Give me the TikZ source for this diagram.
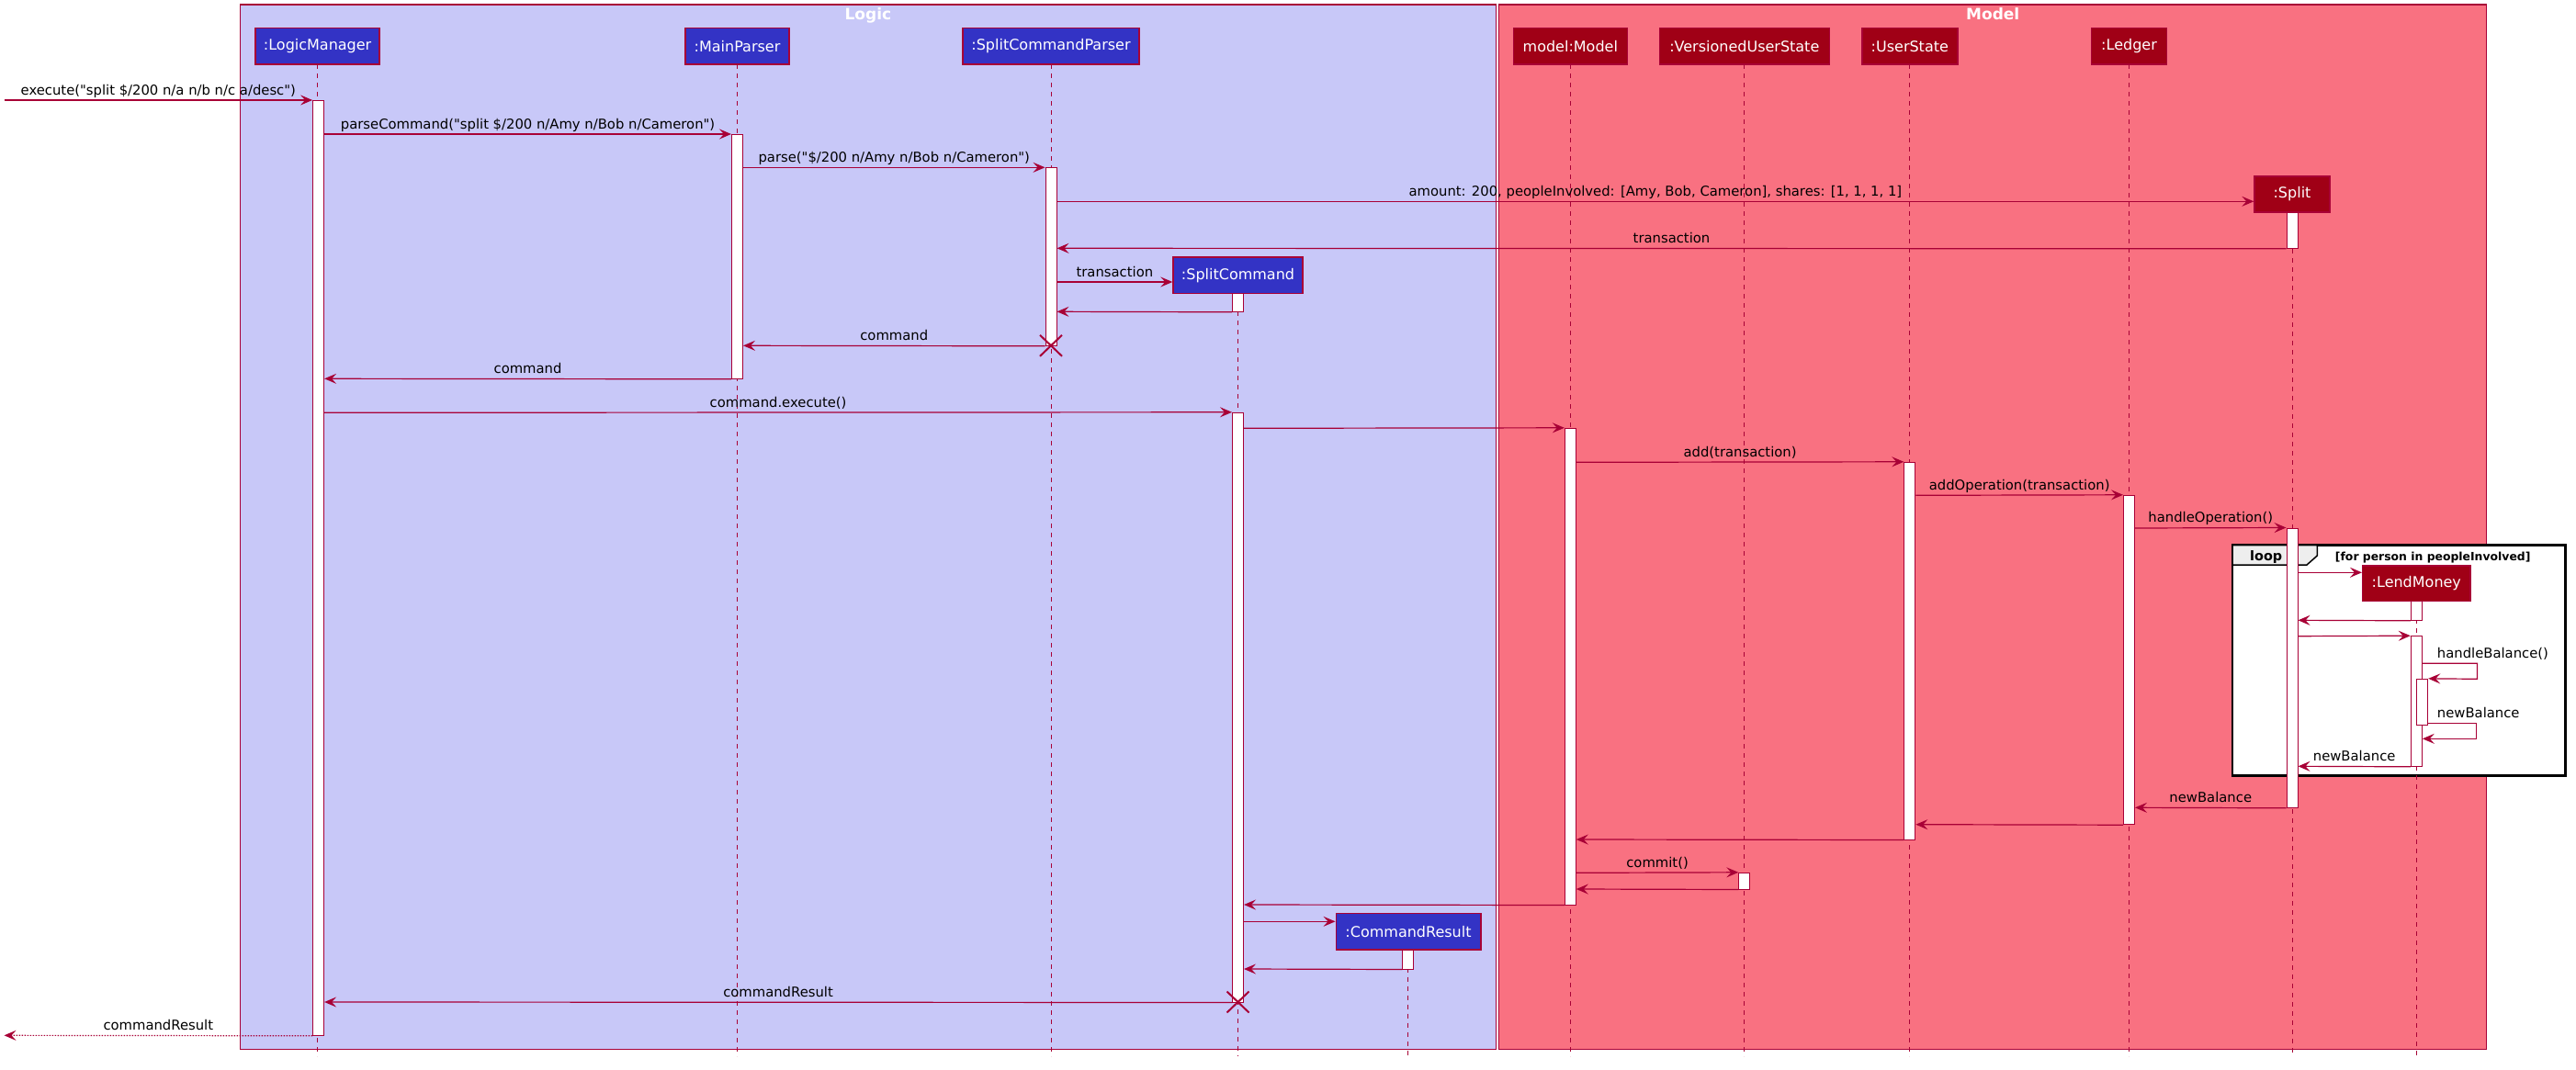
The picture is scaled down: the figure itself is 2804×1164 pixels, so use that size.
\documentclass[tikz,border=0pt]{standalone}
\usepackage{fontspec}
\setmainfont{DejaVu Sans}[Ligatures=TeXOff]
\usetikzlibrary{arrows.meta}
\definecolor{lred}{HTML}{A80036}
\definecolor{logicFill}{RGB}{200,200,248}
\definecolor{modelFill}{RGB}{249,113,129}
\definecolor{logicPart}{RGB}{51,51,197}
\definecolor{modelPart}{RGB}{160,0,22}
\definecolor{tabFill}{HTML}{EEEEEE}
\newcommand\actbar[4]{\node[act, minimum height={(#4-#3)*1pt}] (#1) at (#2,{(#3+#4)/2}) {};}
\newcommand\killmark[2]{\draw[xmark] (#1) ++(-12,-11.5) -- ++(24,23) (#1) ++(12,-11.5) -- ++(-24,23);}
\begin{document}
\begin{tikzpicture}[x=1pt,y=-1pt,
  part/.style={draw=lred, line width=1.4pt, text=white, font=\fontsize{16}{19}\selectfont, minimum height=39.3pt, inner sep=0pt},
  lpart/.style={part, fill=logicPart},
  mpart/.style={part, fill=modelPart},
  act/.style={draw=lred, fill=white, line width=1pt, minimum width=12pt, inner sep=0pt},
  lifeline/.style={draw=lred, line width=1pt, dash pattern=on 5pt off 5pt},
  msg/.style={draw=lred, line width=1.2pt, -{Stealth[length=13pt,width=11pt,inset=5pt]}},
  retdot/.style={msg, dash pattern=on 1.5pt off 1.5pt},
  lbl/.style={midway, anchor=base, yshift=6pt, inner sep=0pt, text=black, font=\fontsize{14.8}{17}\selectfont},
  slbl/.style={anchor=base west, inner sep=0pt, text=black, font=\fontsize{14.8}{17}\selectfont},
  title/.style={anchor=base, inner sep=0pt, text=white, font=\fontsize{17}{20}\selectfont\bfseries},
  xmark/.style={draw=lred, line width=2pt}
]
\useasboundingbox (0,0) rectangle (2804,1164);
\fill[white] (0,0) rectangle (2804,1164);
% packages
\draw[draw=lred, line width=1.4pt, fill=logicFill] (261.5,5) rectangle (1628.3,1142.3);
\draw[draw=lred, line width=1.4pt, fill=modelFill] (1631.7,5) rectangle (2706.7,1142.3);
\node[title] (tLogic) at (944.9,22) {Logic};
\node[title] (tModel) at (2169.2,22) {Model};
% loop frame
\draw[black, line width=2.7pt, fill=white] (2430,593.7) rectangle (2792.3,844.7);
\draw[black, line width=1.5pt, fill=tabFill] (2430,593.7) -- (2522.3,593.7) -- (2522.3,605) -- (2511,615) -- (2430,615) -- cycle;
\node[anchor=base, inner sep=0pt, font=\fontsize{14.4}{17}\selectfont\bfseries] (tLoop) at (2466.7,610.5) {loop};
\node[anchor=base west, inner sep=0pt, font=\fontsize{12.4}{15}\selectfont\bfseries] (tGuard) at (2541.7,610) {[for person in peopleInvolved]};
% participants (coordinates for lifelines)
\coordinate (cLM) at (345.6,70);
\coordinate (cMP) at (802.5,70);
\coordinate (cSCP) at (1144,70);
\coordinate (cSC) at (1347.5,319);
\coordinate (cModel) at (1709.3,70);
\coordinate (cVUS) at (1898.8,70);
\coordinate (cUS) at (2078.8,70);
\coordinate (cLedger) at (2317.5,70);
\coordinate (cSplit) at (2495,231.3);
\coordinate (cLend) at (2630.3,654.3);
\coordinate (cCR) at (1532.8,1033.7);
\foreach \c in {cLM,cMP,cSCP,cSC,cModel,cVUS,cUS,cLedger,cSplit,cLend,cCR}
  \draw[lifeline] (\c) -- (\c |- 0,1150);
% activations
\actbar{aLM}{346.6}{109}{1127.3}
\actbar{aMP}{802.5}{146}{412.3}
\actbar{aSCP}{1144}{182.3}{376.3}
\actbar{aSplitA}{2495}{231.3}{270.3}
\actbar{aSplitB}{2495}{575}{879.3}
\actbar{aSCa}{1347.5}{319}{339.3}
\actbar{aSCb}{1347.5}{449.3}{1091}
\actbar{aModel}{1709.3}{466.3}{985}
\actbar{aUS}{2078.8}{503.3}{914}
\actbar{aLedger}{2317.5}{539.3}{897.7}
\actbar{aLendA}{2630.3}{654.3}{675.3}
\actbar{aLendB}{2630.3}{692.7}{834.3}
\actbar{aLendC}{2636.7}{739.3}{789.3}
\actbar{aVUS}{1898.8}{950.3}{968}
\actbar{aCR}{1532.8}{1033.7}{1055}
% participant boxes
\node[lpart, minimum width=135pt] (pLM) at (345.6,50.3) {:LogicManager};
\node[lpart, minimum width=113pt] (pMP) at (802.5,50.3) {:MainParser};
\node[lpart, minimum width=192pt] (pSCP) at (1144,50.3) {:SplitCommandParser};
\node[lpart, minimum width=141pt] (pSC) at (1347.5,299.6) {:SplitCommand};
\node[lpart, minimum width=157.6pt] (pCR) at (1533,1014.3) {:CommandResult};
\node[mpart, minimum width=124pt] (pModel) at (1709.3,50.3) {model:Model};
\node[mpart, minimum width=185pt] (pVUS) at (1898.8,50.3) {:VersionedUserState};
\node[mpart, minimum width=104pt] (pUS) at (2078.8,50.3) {:UserState};
\node[mpart, minimum width=82pt] (pLedger) at (2317.5,50.3) {:Ledger};
\node[mpart, minimum width=82pt] (pSplit) at (2495,211.5) {:Split};
\node[mpart, minimum width=117.3pt, minimum height=38.3pt] (pLend) at (2630.3,635.1) {:LendMoney};
% free ends
\coordinate (inStart) at (4.5,109);
\coordinate (outEnd) at (4.5,1127.3);
% messages
\draw[msg] (inStart) -- (aLM.west |- 0,109) node[lbl] (m1) {execute("split \$/200 n/a n/b n/c a/desc")};
\draw[msg] (aLM.east |- 0,146) -- (aMP.west |- 0,146) node[lbl] (m2) {parseCommand("split \$/200 n/Amy n/Bob n/Cameron")};
\draw[msg] (aMP.east |- 0,182.3) -- (aSCP.west |- 0,182.3) node[lbl] (m3) {parse("\$/200 n/Amy n/Bob n/Cameron")};
\draw[msg] (aSCP.east |- 0,219.3) -- (pSplit.west |- 0,219.3) node[lbl] (m4) {amount: 200, peopleInvolved: [Amy, Bob, Cameron], shares: [1, 1, 1, 1]};
\draw[msg] (aSplitA.south west) -- (aSCP.east |- 0,270.3) node[lbl] (m5) {transaction};
\draw[msg] (aSCP.east |- 0,307) -- (pSC.west |- 0,307) node[lbl] (m6) {transaction};
\draw[msg] (aSCa.south west) -- (aSCP.east |- 0,339.3);
\draw[msg] (aSCP.south west) -- (aMP.east |- 0,376.3) node[lbl] (m8) {command};
\draw[msg] (aMP.south west) -- (aLM.east |- 0,412.3) node[lbl] (m9) {command};
\draw[msg] (aLM.east |- 0,449.3) -- (aSCb.north west) node[lbl] (m10) {command.execute()};
\draw[msg] (aSCb.east |- 0,466.3) -- (aModel.north west);
\draw[msg] (aModel.east |- 0,503.3) -- (aUS.north west) node[lbl] (m12) {add(transaction)};
\draw[msg] (aUS.east |- 0,539.3) -- (aLedger.north west) node[lbl] (m13) {addOperation(transaction)};
\draw[msg] (aLedger.east |- 0,575) -- (aSplitB.north west) node[lbl] (m14) {handleOperation()};
\draw[msg] (aSplitB.east |- 0,623.3) -- (pLend.west |- 0,623.3);
\draw[msg] (aLendA.south west) -- (aSplitB.east |- 0,675.3);
\draw[msg] (aSplitB.east |- 0,692.7) -- (aLendB.north west);
\draw[msg] (aLendB.east |- 0,722.3) -- ++(59.7,0) -- ++(0,17) -- (aLendC.north east);
\node[slbl] (m18) at (2652.7,716.7) {handleBalance()};
\draw[msg] (aLendC.east |- 0,787.3) -- ++(52.4,0) -- ++(0,17) -- (aLendB.east |- 0,804.3);
\node[slbl] (m19) at (2652.7,781.7) {newBalance};
\draw[msg] (aLendB.south west) -- (aSplitB.east |- 0,834.3) node[lbl] (m20) {newBalance};
\draw[msg] (aSplitB.south west) -- (aLedger.east |- 0,879.3) node[lbl] (m21) {newBalance};
\draw[msg] (aLedger.south west) -- (aUS.east |- 0,897.7);
\draw[msg] (aUS.south west) -- (aModel.east |- 0,914);
\draw[msg] (aModel.east |- 0,950.3) -- (aVUS.north west) node[lbl] (m24) {commit()};
\draw[msg] (aVUS.south west) -- (aModel.east |- 0,968);
\draw[msg] (aModel.south west) -- (aSCb.east |- 0,985);
\draw[msg] (aSCb.east |- 0,1003.3) -- (pCR.west |- 0,1003.3);
\draw[msg] (aCR.south west) -- (aSCb.east |- 0,1055);
\draw[msg] (aSCb.south west) -- (aLM.east |- 0,1091) node[lbl] (m29) {commandResult};
\draw[retdot] (aLM.south west) -- (outEnd) node[lbl] (m30) {commandResult};
% destroy marks
\coordinate (xSCP) at (1144,376.3);
\coordinate (xSC) at (1347.5,1091);
\killmark{xSCP}{}
\killmark{xSC}{}
\end{tikzpicture}
\end{document}
